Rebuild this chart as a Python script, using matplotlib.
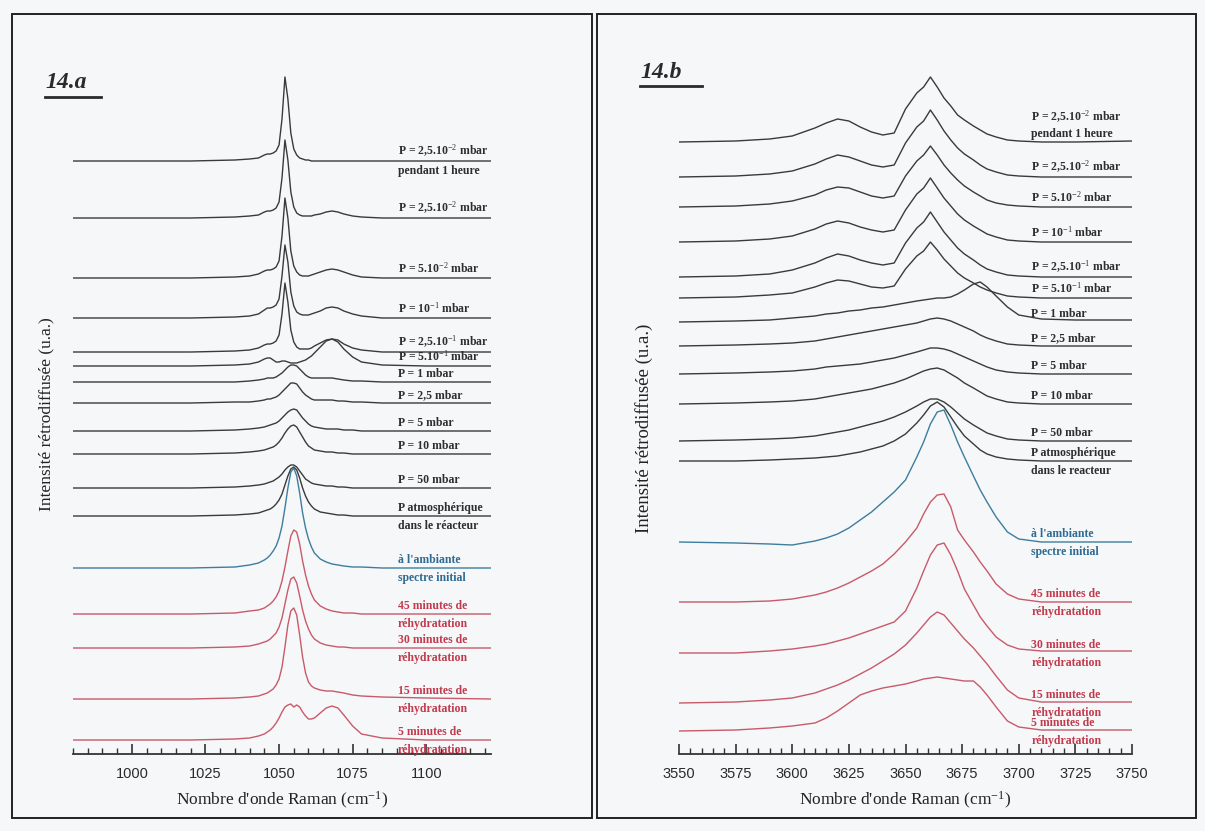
import matplotlib.pyplot as plt
from matplotlib.lines import Line2D
from matplotlib.patches import Rectangle

# ---------------------------------------------------------------
# data : stacked Raman spectra, heights (a.u.)
# ---------------------------------------------------------------

# panel 14.a  (980 - 1122 cm-1)
wavenumberA = [980, 1000, 1020, 1035, 1040, 1043, 1045, 1046, 1047, 1048, 1049,
               1050, 1051, 1052, 1053, 1054, 1055, 1056, 1057, 1058, 1059, 1060,
               1061, 1062, 1064, 1066, 1068, 1070, 1072, 1075, 1078, 1085, 1100, 1122]

offsetsA = [593, 536, 476, 436, 402, 388, 372, 351, 323, 300, 266, 238,
            186, 140, 106, 55, 14]

spectraA = [
    [0, 0, 0, 1, 2, 3, 6, 7, 7, 8, 10, 16, 42, 84, 62, 28, 12, 6, 3, 2, 1, 1, 0, 0, 0, 0, 0, 0, 0, 0, 0, 0, 0, 0],
    [0, 0, 0, 1, 2, 3, 6, 7, 7, 8, 10, 16, 40, 78, 58, 26, 11, 5, 3, 2, 2, 2, 2, 3, 4, 6, 7, 6, 4, 2, 1, 0, 0, 0],
    [0, 0, 0, 1, 2, 4, 7, 8, 8, 9, 11, 17, 42, 80, 60, 27, 12, 6, 3, 2, 2, 2, 3, 4, 6, 8, 9, 8, 6, 3, 1, 0, 0, 0],
    [0, 0, 0, 1, 2, 4, 8, 10, 10, 11, 13, 19, 42, 73, 56, 26, 12, 6, 4, 3, 3, 3, 4, 5, 7, 10, 11, 10, 7, 4, 2, 0, 0, 0],
    [0, 0, 0, 1, 2, 4, 7, 8, 8, 9, 11, 17, 38, 69, 50, 22, 10, 5, 3, 3, 3, 3, 4, 6, 9, 12, 13, 12, 8, 4, 2, 0, 0, 0],
    [0, 0, 0, 1, 2, 4, 7, 8, 8, 6, 4, 4, 5, 5, 4, 3, 3, 3, 4, 5, 6, 8, 10, 13, 19, 25, 27, 24, 17, 9, 4, 1, 0, 0],
    [0, 0, 0, 0, 1, 2, 3, 4, 4, 4, 5, 7, 9, 12, 15, 17, 17, 16, 13, 10, 7, 5, 4, 4, 4, 4, 4, 3, 2, 1, 1, 0, 0, 0],
    [0, 0, 0, 1, 1, 2, 3, 4, 4, 5, 6, 8, 11, 14, 17, 20, 20, 19, 15, 11, 8, 6, 4, 3, 3, 3, 3, 2, 2, 1, 1, 0, 0, 0],
    [0, 0, 0, 1, 2, 3, 4, 5, 6, 7, 8, 10, 13, 16, 19, 21, 22, 21, 17, 13, 10, 7, 5, 4, 3, 2, 2, 2, 1, 1, 0, 0, 0, 0],
    [0, 0, 0, 1, 2, 3, 4, 5, 6, 7, 9, 12, 16, 21, 25, 28, 29, 27, 22, 17, 12, 8, 6, 4, 3, 2, 2, 1, 1, 0, 0, 0, 0, 0],
    [0, 0, 0, 1, 2, 3, 4, 5, 6, 7, 9, 11, 14, 18, 21, 23, 23, 21, 17, 13, 9, 7, 5, 4, 3, 2, 2, 1, 1, 0, 0, 0, 0, 0],
    [0, 0, 0, 1, 2, 3, 5, 6, 7, 9, 12, 16, 22, 31, 40, 47, 49, 46, 38, 28, 20, 14, 10, 7, 4, 3, 2, 1, 1, 0, 0, 0, 0, 0],
    [0, 0, 0, 1, 3, 5, 8, 10, 13, 17, 22, 30, 42, 60, 80, 96, 100, 92, 75, 55, 40, 29, 21, 15, 9, 6, 4, 3, 2, 1, 1, 0, 0, 0],
    [0, 0, 0, 1, 3, 4, 6, 8, 10, 13, 17, 23, 33, 47, 63, 78, 84, 82, 70, 53, 39, 28, 20, 14, 8, 5, 3, 2, 1, 1, 0, 0, 0, 0],
    [0, 0, 0, 1, 2, 4, 6, 7, 9, 12, 15, 21, 30, 44, 58, 69, 71, 65, 52, 38, 27, 19, 13, 9, 5, 3, 2, 1, 1, 0, 0, 0, 0, 0],
    [0, 0, 0, 1, 2, 3, 5, 6, 8, 10, 14, 20, 32, 52, 74, 88, 91, 84, 64, 42, 26, 17, 13, 11, 9, 8, 8, 7, 6, 4, 3, 2, 1, 0],
    [0, 0, 0, 1, 2, 4, 6, 8, 10, 13, 17, 22, 28, 33, 35, 36, 33, 35, 33, 28, 24, 21, 21, 22, 27, 32, 34, 32, 25, 14, 6, 2, 0, 0],
]

# panel 14.b  (3550 - 3750 cm-1)
wavenumberB = [3550, 3575, 3590, 3600, 3610, 3615, 3620, 3625, 3630, 3635, 3640,
               3645, 3650, 3655, 3658, 3661, 3664, 3667, 3670, 3673, 3676, 3680,
               3683, 3686, 3690, 3695, 3700, 3710, 3725, 3750]

offsetsB = [612, 577, 547, 512, 477, 456, 432, 408, 380, 350, 313, 293,
            212, 152, 101, 51, 23]

spectraB = [
    [0, 1, 3, 6, 14, 19, 23, 21, 15, 10, 7, 9, 33, 49, 55, 65, 55, 44, 36, 27, 22, 16, 12, 8, 5, 2, 1, 0, 0, 1],
    [0, 1, 3, 6, 13, 18, 22, 20, 16, 12, 10, 12, 34, 50, 56, 67, 57, 46, 37, 29, 23, 17, 12, 8, 5, 2, 1, 0, 0, 0],
    [0, 1, 3, 6, 12, 17, 20, 19, 15, 11, 9, 11, 31, 46, 52, 61, 52, 42, 34, 27, 21, 15, 11, 7, 4, 2, 1, 0, 0, 0],
    [0, 1, 3, 6, 13, 18, 21, 19, 15, 12, 10, 12, 32, 48, 54, 64, 54, 44, 36, 28, 22, 16, 12, 8, 5, 2, 1, 0, 0, 0],
    [0, 1, 3, 7, 14, 19, 23, 21, 17, 14, 12, 14, 34, 49, 55, 65, 55, 45, 37, 29, 23, 17, 12, 8, 5, 2, 1, 0, 0, 0],
    [0, 1, 3, 5, 11, 15, 18, 17, 14, 11, 10, 12, 29, 42, 47, 56, 48, 39, 32, 25, 20, 15, 11, 8, 5, 2, 1, 0, 0, 0],
    [0, 1, 2, 4, 6, 8, 9, 11, 12, 14, 15, 17, 19, 21, 22, 23, 24, 24, 25, 28, 32, 38, 40, 35, 26, 15, 7, 3, 2, 2],
    [0, 1, 2, 3, 5, 7, 9, 11, 13, 15, 17, 19, 21, 23, 25, 27, 28, 27, 25, 22, 19, 15, 11, 8, 5, 2, 1, 0, 0, 0],
    [0, 1, 2, 3, 5, 7, 8, 9, 10, 12, 14, 16, 19, 22, 24, 26, 26, 25, 23, 20, 17, 13, 10, 7, 4, 2, 1, 0, 0, 0],
    [0, 1, 2, 3, 5, 7, 9, 11, 13, 15, 18, 21, 25, 30, 33, 35, 36, 34, 30, 26, 21, 16, 12, 8, 5, 2, 1, 0, 0, 0],
    [0, 1, 2, 3, 5, 7, 9, 11, 14, 17, 20, 24, 29, 35, 39, 42, 42, 39, 34, 28, 22, 16, 12, 8, 5, 2, 1, 0, 0, 0],
    [0, 0, 1, 2, 3, 4, 5, 7, 9, 12, 15, 20, 27, 38, 46, 55, 59, 54, 44, 34, 25, 17, 11, 7, 4, 2, 1, 0, 0, 0],
    [0, -1, -2, -3, 1, 4, 8, 14, 22, 30, 40, 50, 62, 85, 100, 118, 130, 132, 117, 100, 85, 66, 52, 40, 25, 10, 3, 0, 0, 0],
    [0, 0, 1, 3, 7, 10, 14, 19, 25, 31, 38, 48, 60, 74, 88, 100, 107, 108, 95, 72, 62, 50, 40, 31, 18, 8, 3, 0, 0, 0],
    [0, 0, 2, 4, 7, 9, 12, 15, 19, 23, 27, 31, 42, 65, 82, 98, 108, 110, 98, 82, 64, 48, 36, 27, 16, 8, 4, 2, 2, 2],
    [0, 1, 3, 5, 10, 14, 18, 23, 29, 35, 42, 49, 58, 70, 78, 86, 91, 88, 80, 72, 64, 55, 47, 39, 27, 13, 5, 1, 1, 1],
    [0, 1, 3, 5, 8, 13, 20, 28, 36, 40, 43, 45, 47, 50, 52, 53, 54, 53, 52, 51, 50, 50, 44, 36, 24, 10, 4, 1, 1, 1],
]

# curve labels (top to bottom)
labelsA = [["P = 2,5.10$^{-2}$ mbar", "pendant 1 heure"], ["P = 2,5.10$^{-2}$ mbar"],
           ["P = 5.10$^{-2}$ mbar"], ["P = 10$^{-1}$ mbar"], ["P = 2,5.10$^{-1}$ mbar"],
           ["P = 5.10$^{-1}$ mbar"], ["P = 1 mbar"], ["P = 2,5 mbar"], ["P = 5 mbar"],
           ["P = 10 mbar"], ["P = 50 mbar"], ["P atmosphérique", "dans le réacteur"],
           ["à l'ambiante", "spectre initial"], ["45 minutes de", "réhydratation"],
           ["30 minutes de", "réhydratation"], ["15 minutes de", "réhydratation"],
           ["5 minutes de", "réhydratation"]]
labelsB = [["P = 2,5.10$^{-2}$ mbar", "pendant 1 heure"], ["P = 2,5.10$^{-2}$ mbar"],
           ["P = 5.10$^{-2}$ mbar"], ["P = 10$^{-1}$ mbar"], ["P = 2,5.10$^{-1}$ mbar"],
           ["P = 5.10$^{-1}$ mbar"], ["P = 1 mbar"], ["P = 2,5 mbar"], ["P = 5 mbar"],
           ["P = 10 mbar"], ["P = 50 mbar"], ["P atmosphérique", "dans le reacteur"],
           ["à l'ambiante", "spectre initial"], ["45 minutes de", "réhydratation"],
           ["30 minutes de", "réhydratation"], ["15 minutes de", "réhydratation"],
           ["5 minutes de", "réhydratation"]]

# 0 = under vacuum / pressure, 1 = initial spectrum, 2 = rehydration
groups = [0] * 12 + [1] + [2] * 4

# ---------------------------------------------------------------
# style
# ---------------------------------------------------------------
W, H = 1205, 831
bg = '#f5f7f9'
lineColors = ['#3a3a3a', '#3d7d9e', '#c85a6a']
textColors = ['#2e2e2e', '#2f6a92', '#c23a4c']

plt.rcParams['font.family'] = ['Liberation Serif', 'DejaVu Serif']
plt.rcParams['mathtext.fontset'] = 'custom'
plt.rcParams['mathtext.rm'] = 'Liberation Serif'
plt.rcParams['mathtext.it'] = 'Liberation Serif:italic'
plt.rcParams['mathtext.bf'] = 'Liberation Serif:bold'

fig = plt.figure(figsize=(W / 100, H / 100), dpi=100, facecolor=bg)


def px_axes(x0, x1, y0, y1):
    # axes rectangle given in pixels (top-left origin)
    return fig.add_axes([x0 / W, 1 - y1 / H, (x1 - x0) / W, (y1 - y0) / H])


def draw_panel(ax, x, offsets, spectra, labels, xlim, labelX, firstBothAbove,
               ylabelSize):
    ax.set_facecolor('none')
    for i, (off, ys) in enumerate(zip(offsets, spectra)):
        g = groups[i]
        ax.plot(x, [off + v for v in ys], color=lineColors[g], lw=1.0,
                solid_joinstyle='round', zorder=3)
        txt = labels[i]
        c = textColors[g]
        nAbove = 2 if (i == 0 and firstBothAbove) else 1
        above = txt[:nAbove]
        below = txt[nAbove:]
        ax.text(labelX, off + 2, '\n'.join(above), color=c, fontsize=8.5,
                fontweight='bold', va='bottom', ha='left', linespacing=1.35,
                zorder=4)
        if below:
            ax.text(labelX, off - 4, '\n'.join(below), color=c, fontsize=8.5,
                    fontweight='bold', va='top', ha='left', zorder=4)

    ax.set_xlim(*xlim)
    ax.set_ylim(0, 694)
    for s in ['top', 'right', 'left']:
        ax.spines[s].set_visible(False)
    ax.spines['bottom'].set_linewidth(1.3)
    ax.spines['bottom'].set_color('#333333')
    ax.set_yticks([])
    ax.xaxis.set_major_locator(plt.MultipleLocator(25))
    ax.xaxis.set_minor_locator(plt.MultipleLocator(5))
    ax.tick_params(axis='x', which='major', direction='in', length=7,
                   width=1.2, color='#333333', pad=9, labelsize=10.5)
    ax.tick_params(axis='x', which='minor', direction='in', length=4,
                   width=1.0, color='#333333')
    for t in ax.get_xticklabels():
        t.set_fontfamily('Liberation Sans')
        t.set_color('#2a2a2a')
    ax.set_xlabel("Nombre d'onde Raman (cm$^{-1}$)", fontsize=12.5,
                  color='#222222', labelpad=7)
    ax.set_ylabel('Intensité rétrodiffusée (u.a.)', fontsize=ylabelSize,
                  color='#222222')


axA = px_axes(73, 491, 60, 754)
draw_panel(axA, wavenumberA, offsetsA, spectraA, labelsA, (980, 1122), 1090.4,
           False, 12.5)
axA.set_xticks([1000, 1025, 1050, 1075, 1100])
axA.yaxis.set_label_coords(-0.045, 0.49)

axB = px_axes(679, 1132, 60, 754)
draw_panel(axB, wavenumberB, offsetsB, spectraB, labelsB, (3550, 3750), 3705.5,
           True, 13.5)
axB.yaxis.set_label_coords(-0.058, 0.47)

# panel frames and titles
for x0, x1 in [(12, 592), (597, 1196)]:
    fig.add_artist(Rectangle((x0 / W, 1 - 818 / H), (x1 - x0) / W, (818 - 14) / H,
                             transform=fig.transFigure, fill=False,
                             edgecolor='#222222', lw=1.4))

for label, x0, yc, x1 in [('14.a', 45, 83, 101), ('14.b', 640, 72, 702)]:
    fig.text(x0 / W, 1 - yc / H, label, fontsize=17, fontweight='bold',
             fontstyle='italic', color='#2a2a2a', va='center', ha='left')
    fig.add_artist(Line2D([x0 / W, x1 / W], [1 - (yc + 14) / H] * 2,
                          transform=fig.transFigure, color='#2a2a2a', lw=2.0))

fig.savefig('out.png', dpi=100, facecolor=bg)
